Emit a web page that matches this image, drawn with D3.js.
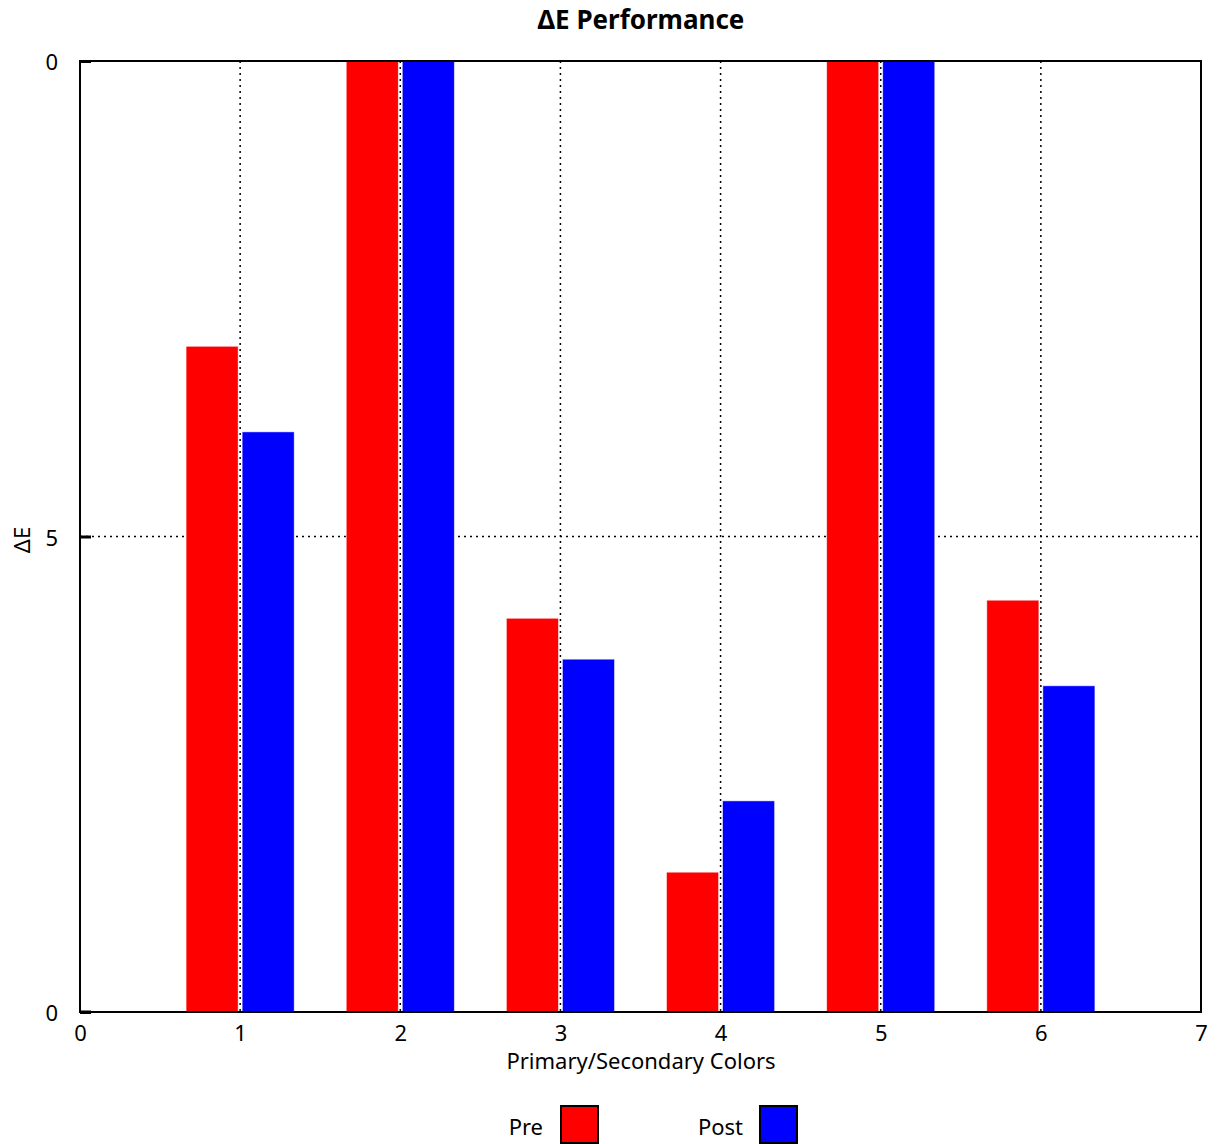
<!DOCTYPE html>
<html><head><meta charset="utf-8">
<script src="https://cdn.jsdelivr.net/npm/d3@7"></script>
<style>body{margin:0;background:#fff;} text{font-family:"Noto Sans","Open Sans",sans-serif;}</style>
</head><body>
<svg id="c" width="1217" height="1144"></svg>
<script>
const categories = [1, 2, 3, 4, 5, 6];
const preValues  = [7.00, 10, 4.14, 1.47, 10, 4.33];
const postValues = [6.10, 10, 3.71, 2.22, 10, 3.43];
const xTicks = [0, 1, 2, 3, 4, 5, 6, 7];
const yTicks = [0, 5, 10];
const yTickLabels = ["0", "5", "0"];
const seriesNames = ["Pre", "Post"];
const seriesColors = ["#ff0000", "#0000ff"];

const svg = d3.select("#c");
const L = 80, R = 1201, T = 61, B = 1012;
const x = d3.scaleLinear().domain([0, 7]).range([L, R]);
const y = d3.scaleLinear().domain([0, 10]).range([B, T]).clamp(true);
const FS = 22;

// grid
const g = svg.append("g");
g.selectAll("line.vg").data(categories).enter().append("line")
  .attr("x1", d => x(d)).attr("x2", d => x(d)).attr("y1", T).attr("y2", B)
  .attr("stroke", "#000").attr("stroke-width", 1.5).attr("stroke-dasharray", "2,4");
g.append("line").attr("x1", L).attr("x2", R).attr("y1", y(5)).attr("y2", y(5))
  .attr("stroke", "#000").attr("stroke-width", 1.5).attr("stroke-dasharray", "2,4");

// bars
const halfGap = 0.0125, bw = 0.325;
const series = [preValues, postValues];
series.forEach((vals, si) => {
  svg.append("g").selectAll("rect").data(categories.map((c, i) => ({c, v: vals[i]}))).enter().append("rect")
    .attr("x", d => si === 0 ? x(d.c - halfGap - bw) : x(d.c + halfGap))
    .attr("width", x(bw) - x(0))
    .attr("y", d => y(d.v))
    .attr("height", d => y(0) - y(d.v))
    .attr("fill", seriesColors[si])
    .attr("stroke", "#fff").attr("stroke-opacity", 0.6).attr("stroke-width", 0.8);
});

// frame
svg.append("rect").attr("x", L).attr("y", T).attr("width", R - L).attr("height", B - T)
  .attr("fill", "none").attr("stroke", "#000").attr("stroke-width", 2);

// y ticks
const yAxis = d3.axisLeft(y).tickValues(yTicks).tickSize(-11).tickPadding(22)
  .tickFormat((d, i) => yTickLabels[i]);
const ya = svg.append("g").attr("transform", `translate(${L},0)`).call(yAxis);
ya.select(".domain").remove();
ya.selectAll(".tick line").attr("stroke-width", 3);
ya.selectAll("text").attr("font-size", FS).attr("fill", "#000").attr("dy", "0.4em")
  .attr("font-family", "'Noto Sans','Open Sans',sans-serif");

// x ticks
const xAxis = d3.axisBottom(x).tickValues(xTicks).tickSize(0).tickPadding(13).tickFormat(d3.format("d"));
const xa = svg.append("g").attr("transform", `translate(0,${B})`).call(xAxis);
xa.select(".domain").remove();
xa.selectAll("text").attr("font-size", FS).attr("fill", "#000")
  .attr("font-family", "'Noto Sans','Open Sans',sans-serif");
svg.append("line").attr("x1", L).attr("x2", L + 11).attr("y1", B).attr("y2", B)
  .attr("stroke", "#000").attr("stroke-width", 3);

// titles
svg.append("text").attr("x", 641).attr("y", 29).attr("text-anchor", "middle")
  .attr("font-size", 26).attr("font-weight", "bold").text("ΔE Performance");
svg.append("text").attr("x", 641).attr("y", 1069).attr("text-anchor", "middle")
  .attr("font-size", FS).text("Primary/Secondary Colors");
svg.append("text").attr("transform", "translate(30,540) rotate(-90)").attr("text-anchor", "middle")
  .attr("font-size", FS).text("ΔE");

// legend
const legX = [[543, 561], [743, 760]];
seriesNames.forEach((n, i) => {
  svg.append("text").attr("x", legX[i][0]).attr("y", 1135).attr("text-anchor", "end")
    .attr("font-size", FS).text(n);
  svg.append("rect").attr("x", legX[i][1]).attr("y", 1106).attr("width", 37).attr("height", 37)
    .attr("fill", seriesColors[i]).attr("stroke", "#000").attr("stroke-width", 2);
});
</script>
</body></html>
